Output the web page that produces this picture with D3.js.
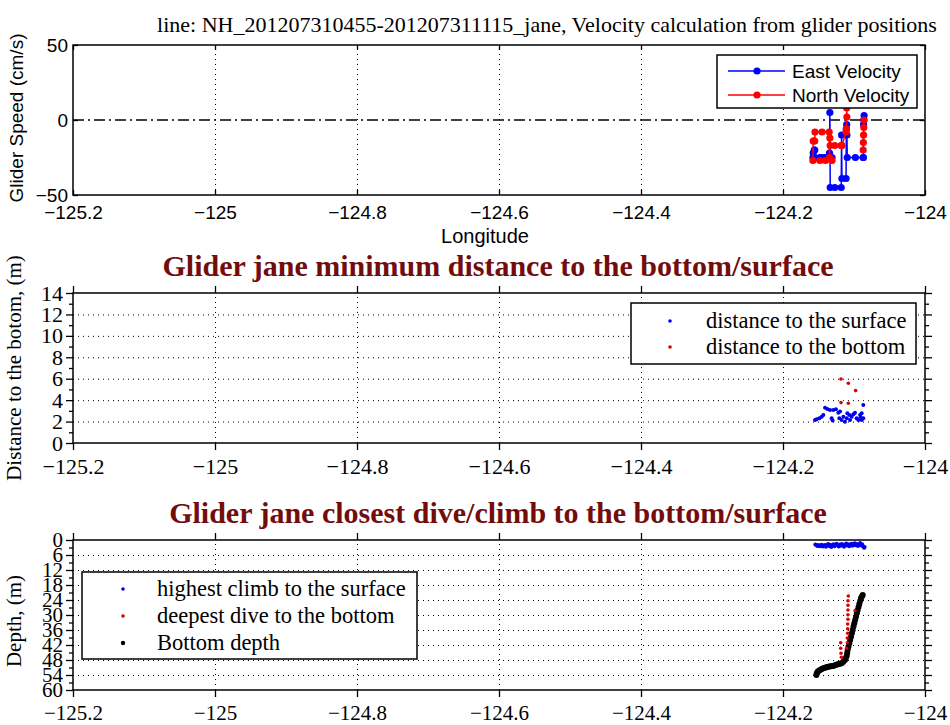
<!DOCTYPE html>
<html>
<head>
<meta charset="utf-8" />
<title>Glider jane</title>
<script src="https://cdn.jsdelivr.net/npm/d3@7/dist/d3.min.js"></script>
<style>
    body { margin: 0; background: #fff; }
    .sans { font-family: "Liberation Sans", Arial, sans-serif; }
    .serif { font-family: "Liberation Serif", "Times New Roman", serif; }
</style>
</head>
<body>
<svg id="fig" width="950" height="725"></svg>
<script>

    // ---- shared tick values
    var lonTicks = [-125.2, -125, -124.8, -124.6, -124.4, -124.2, -124];
    var speedTicks = [-50, 0, 50];
    var distTicks = [0, 2, 4, 6, 8, 10, 12, 14];
    var distMinor = [1, 3, 5, 7, 9, 11, 13];
    var depthTicks = [0, 6, 12, 18, 24, 30, 36, 42, 48, 54, 60];
    var depthMinor = [3, 9, 15, 21, 27, 33, 39, 45, 51, 57];

    // ---- velocity (top panel), time order; null = gap
    var velLon = [-124.0858, -124.0862, -124.0865, -124.0868, -124.0871, -124.0980, -124.1095,
                  -124.1100, -124.1103, -124.1108, -124.1112, -124.1170, -124.1175, -124.1180,
                  -124.1270, -124.1335, -124.1340, -124.1345, -124.1350, -124.1450, -124.1550,
                  -124.1553, -124.1560, -124.1575, -124.1578, -124.1480, -124.1400, -124.1310];
    var eastVel = [3, 0, -3, -25, -25, -25, -25,
                   -10, -3, -6, -39, -39, -10, -45,
                   -45, -45, 5, -22, -25, -25, -25,
                   -20, -20, -22, -25, -25, -25, -25];
    var northVel = [0, -5, -10, -15, -20, null, null,
                    2, 8, -6, -8, -17, -17, -17,
                    -17, -17, -12, -25, -8, -8, -8,
                    -14, -14, -14, -27, -27, -27, -27];

    // ---- minimum distance (middle panel)
    var surfLon = [-124.1549, -124.1526, -124.1488, -124.1455, -124.1432, -124.1408, -124.1376, -124.1338,
                   -124.1315, -124.1301, -124.1291, -124.1254, -124.1221, -124.1197, -124.1207, -124.1174,
                   -124.1150, -124.1127, -124.1103, -124.1094, -124.1066, -124.1056, -124.1033, -124.1009,
                   -124.0986, -124.0963, -124.0939, -124.0915, -124.0892, -124.0892, -124.0869, -124.0869,
                   -124.0906];
    var surfDist = [2.15, 2.21, 2.31, 2.46, 2.62, 3.30, 3.18, 3.08,
                    2.31, 2.09, 3.08, 3.14, 2.83, 2.93, 2.31, 2.15,
                    2.46, 1.99, 2.31, 2.77, 2.62, 2.15, 2.46, 2.68,
                    2.83, 2.31, 2.15, 2.62, 2.77, 2.15, 3.55, 2.31,
                    2.40];
    var botLon = [-124.1183, -124.1080, -124.0977, -124.1183, -124.1080];
    var botDist = [5.98, 5.57, 4.89, 3.77, 3.71];

    // ---- closest dive/climb (bottom panel)
    var climbLon = [-124.1545, -124.1530, -124.1515, -124.1500, -124.1485, -124.1470, -124.1455, -124.1440,
                    -124.1425, -124.1410, -124.1395, -124.1380, -124.1365, -124.1350, -124.1335, -124.1320,
                    -124.1305, -124.1290, -124.1275, -124.1260, -124.1245, -124.1230, -124.1215, -124.1200,
                    -124.1185, -124.1170, -124.1155, -124.1140, -124.1125, -124.1110, -124.1095, -124.1080,
                    -124.1065, -124.1050, -124.1035, -124.1020, -124.1005, -124.0990, -124.0975, -124.0960,
                    -124.0945, -124.0930, -124.0915, -124.0900, -124.0885, -124.0870, -124.0858, -124.0850];
    var climbDepth = [1.8, 2.1, 2.4, 2.0, 2.5, 2.2, 1.9, 2.6,
                      2.3, 2.0, 2.7, 2.1, 1.6, 2.4, 1.9, 2.8,
                      2.1, 1.7, 2.5, 2.0, 1.5, 2.2, 2.6, 1.8,
                      2.3, 1.6, 2.1, 2.7, 1.9, 1.4, 2.2, 1.7,
                      2.5, 2.0, 1.5, 2.3, 1.8, 1.3, 2.1, 1.6,
                      2.4, 1.9, 1.2, 2.2, 1.7, 2.6, 3.1, 2.8];
    var diveLon = [-124.1080, -124.1085, -124.1085, -124.1085, -124.1085, -124.1085, -124.1089, -124.1089,
                   -124.1089, -124.1094, -124.1094, -124.1103, -124.1187, -124.1187, -124.1183, -124.1178,
                   -124.0986];
    var diveDepth = [22.4, 24.3, 26.1, 28.0, 29.9, 31.7, 33.6, 35.5,
                     37.3, 39.2, 41.1, 43.3, 41.1, 43.3, 45.3, 46.9,
                     28.3];
    var bedLon = [-124.1530, -124.1525, -124.1515, -124.1500, -124.1479, -124.1460, -124.1440, -124.1420,
                  -124.1400, -124.1385, -124.1365, -124.1345, -124.1325, -124.1305, -124.1292, -124.1270,
                  -124.1250, -124.1230, -124.1210, -124.1190, -124.1173, -124.1150, -124.1127, -124.1115,
                  -124.1103, -124.1096, -124.1089, -124.1078, -124.1066, -124.1054, -124.1042, -124.1030,
                  -124.1018, -124.1007, -124.0996, -124.0984, -124.0972, -124.0960, -124.0948, -124.0936,
                  -124.0925, -124.0913, -124.0901, -124.0889, -124.0877];
    var bedDepth = [54.0, 53.4, 52.8, 52.4, 52.0, 51.7, 51.4, 51.2,
                    51.0, 50.9, 50.7, 50.6, 50.5, 50.4, 50.4, 50.1,
                    49.9, 49.7, 49.6, 49.4, 49.3, 48.7, 48.0, 47.2,
                    46.4, 45.2, 44.0, 42.7, 41.3, 40.0, 38.7, 37.3,
                    36.0, 34.6, 33.3, 32.0, 30.7, 29.3, 28.0, 26.8,
                    25.6, 24.4, 23.3, 22.6, 22.0];

    var svg = d3.select("#fig");
    var left = 73, right = 925;
    var maroon = "#730d0d";

    function fmt(d) { return (d < 0 ? "\u2212" : "") + Math.abs(d); }

    function zip(a, b) { return a.map(function (v, i) { return [v, b[i]]; }); }

    // draws grid, border, ticks of one panel
    function frame(x, y, top, bottom, o) {
        var g = svg.append("g");
        var h = bottom - top, w = right - left;
        // dotted grid
        g.append("g").attr("transform", "translate(0," + bottom + ")")
            .call(d3.axisBottom(x).tickValues(lonTicks.slice(1, -1)).tickSize(-h).tickFormat(""))
            .selectAll("line").attr("stroke", "#000").attr("stroke-dasharray", "1,4");
        if (o.ygrid) {
            g.append("g").attr("transform", "translate(" + left + ",0)")
                .call(d3.axisLeft(y).tickValues(o.ygrid).tickSize(-w).tickFormat(""))
                .selectAll("line").attr("stroke", "#000").attr("stroke-dasharray", "1,4");
        }
        var t = o.tick, tm = o.minorTick;
        g.append("g").attr("transform", "translate(0," + bottom + ")")
            .call(d3.axisBottom(x).tickValues(lonTicks).tickSize(t).tickPadding(o.xpad).tickFormat(fmt));
        g.append("g").attr("transform", "translate(0," + top + ")")
            .call(d3.axisTop(x).tickValues(lonTicks).tickSize(t).tickFormat(""));
        g.append("g").attr("transform", "translate(" + left + ",0)")
            .call(d3.axisLeft(y).tickValues(o.yticks).tickSize(t).tickPadding(o.ypad).tickFormat(fmt));
        g.append("g").attr("transform", "translate(" + right + ",0)")
            .call(d3.axisRight(y).tickValues(o.yticks).tickSize(t).tickFormat(""));
        if (o.minor) {
            g.append("g").attr("transform", "translate(" + left + ",0)")
                .call(d3.axisLeft(y).tickValues(o.minor).tickSize(tm).tickFormat(""));
            g.append("g").attr("transform", "translate(" + right + ",0)")
                .call(d3.axisRight(y).tickValues(o.minor).tickSize(tm).tickFormat(""));
        }
        g.selectAll(".domain").remove();
        g.selectAll(".tick line").filter(function () { return !this.getAttribute("stroke-dasharray"); })
            .attr("stroke", "#000").attr("stroke-width", 1.3);
        g.selectAll("text").attr("class", o.font).attr("font-family", null)
            .style("font-size", o.fontSize + "px").attr("fill", "#000");
        g.append("rect").attr("x", left).attr("y", top).attr("width", w).attr("height", h)
            .attr("fill", "none").attr("stroke", "#000").attr("stroke-width", 1.5);
        return g;
    }

    function legendBox(x0, y0, w, h) {
        svg.append("rect").attr("x", x0).attr("y", y0).attr("width", w).attr("height", h)
            .attr("fill", "#fff").attr("stroke", "#000").attr("stroke-width", 1.5);
    }

    // ================= top panel: velocity =================
    var x1 = d3.scaleLinear().domain([-125.2, -124]).range([left, right]);
    var y1 = d3.scaleLinear().domain([-50, 50]).range([195, 45]);

    frame(x1, y1, 45, 195, { yticks: speedTicks, tick: -5, xpad: 11, ypad: 5, font: "sans", fontSize: 19 });

    svg.append("line").attr("x1", left).attr("x2", right).attr("y1", y1(0)).attr("y2", y1(0))
        .attr("stroke", "#000").attr("stroke-width", 1.5).attr("stroke-dasharray", "11,4,2,4");

    var velLine = d3.line().defined(function (d) { return d[1] !== null; })
        .x(function (d) { return x1(d[0]); }).y(function (d) { return y1(d[1]); });

    [[eastVel, "#0000ff"], [northVel, "#ff0000"]].forEach(function (s) {
        var pts = zip(velLon, s[0]);
        svg.append("path").datum(pts).attr("d", velLine)
            .attr("fill", "none").attr("stroke", s[1]).attr("stroke-width", 1.5);
        svg.append("g").selectAll("circle").data(pts.filter(function (d) { return d[1] !== null; }))
            .enter().append("circle")
            .attr("cx", function (d) { return x1(d[0]); }).attr("cy", function (d) { return y1(d[1]); })
            .attr("r", 3.6).attr("fill", s[1]);
    });

    svg.append("text").attr("class", "serif").attr("x", 547).attr("y", 32)
        .attr("text-anchor", "middle").style("font-size", "22px")
        .text("line: NH_201207310455-201207311115_jane, Velocity calculation from glider positions");
    svg.append("text").attr("class", "sans").attr("x", 485).attr("y", 243)
        .attr("text-anchor", "middle").style("font-size", "20px").text("Longitude");
    svg.append("text").attr("class", "sans").attr("transform", "translate(23,118) rotate(-90)")
        .attr("text-anchor", "middle").style("font-size", "19px").text("Glider Speed (cm/s)");

    legendBox(717, 55, 200, 53);
    [["East Velocity", "#0000ff", 71], ["North Velocity", "#ff0000", 95]].forEach(function (e) {
        svg.append("line").attr("x1", 728).attr("x2", 785).attr("y1", e[2]).attr("y2", e[2])
            .attr("stroke", e[1]).attr("stroke-width", 1.5);
        svg.append("circle").attr("cx", 757).attr("cy", e[2]).attr("r", 3.6).attr("fill", e[1]);
        svg.append("text").attr("class", "sans").attr("x", 792).attr("y", e[2] + 7)
            .style("font-size", "19px").text(e[0]);
    });

    // ================= middle panel: distance =================
    var x2 = d3.scaleLinear().domain([-125.2, -124]).range([left, right]);
    var y2 = d3.scaleLinear().domain([0, 14]).range([443, 293]);

    frame(x2, y2, 293, 443, { yticks: distTicks, minor: distMinor, ygrid: [2, 4, 6, 8, 10, 12],
        tick: 7, minorTick: 4, xpad: 8, ypad: 3, font: "serif", fontSize: 22 });

    svg.append("g").selectAll("circle").data(zip(surfLon, surfDist)).enter().append("circle")
        .attr("cx", function (d) { return x2(d[0]); }).attr("cy", function (d) { return y2(d[1]); })
        .attr("r", 2).attr("fill", "#0000ee");
    svg.append("g").selectAll("circle").data(zip(botLon, botDist)).enter().append("circle")
        .attr("cx", function (d) { return x2(d[0]); }).attr("cy", function (d) { return y2(d[1]); })
        .attr("r", 1.8).attr("fill", "#dd0000");

    svg.append("text").attr("class", "serif").attr("x", 498).attr("y", 276)
        .attr("text-anchor", "middle").style("font-size", "30px").style("font-weight", "bold")
        .attr("fill", maroon).text("Glider jane minimum distance to the bottom/surface");
    svg.append("text").attr("class", "serif").attr("transform", "translate(21,368) rotate(-90)")
        .attr("text-anchor", "middle").style("font-size", "21px").text("Distance to the botom, (m)");

    legendBox(631, 303, 285, 61);
    [["distance to the surface", "#0000ee", 321], ["distance to the bottom", "#dd0000", 347]].forEach(function (e) {
        svg.append("circle").attr("cx", 670).attr("cy", e[2]).attr("r", 1.8).attr("fill", e[1]);
        svg.append("text").attr("class", "serif").attr("x", 706).attr("y", e[2] + 7)
            .style("font-size", "22.5px").text(e[0]);
    });

    // ================= bottom panel: depth =================
    var x3 = d3.scaleLinear().domain([-125.2, -124]).range([left, right]);
    var y3 = d3.scaleLinear().domain([0, 60]).range([540, 690]);

    frame(x3, y3, 540, 690, { yticks: depthTicks, minor: depthMinor, ygrid: depthTicks.slice(1, -1),
        tick: 7, minorTick: 4, xpad: 8, ypad: 3, font: "serif", fontSize: 21 });

    svg.append("g").selectAll("circle").data(zip(bedLon, bedDepth)).enter().append("circle")
        .attr("cx", function (d) { return x3(d[0]); }).attr("cy", function (d) { return y3(d[1]); })
        .attr("r", 3).attr("fill", "#000");
    svg.append("g").selectAll("circle").data(zip(climbLon, climbDepth)).enter().append("circle")
        .attr("cx", function (d) { return x3(d[0]); }).attr("cy", function (d) { return y3(d[1]); })
        .attr("r", 2).attr("fill", "#0000ee");
    svg.append("g").selectAll("circle").data(zip(diveLon, diveDepth)).enter().append("circle")
        .attr("cx", function (d) { return x3(d[0]); }).attr("cy", function (d) { return y3(d[1]); })
        .attr("r", 1.8).attr("fill", "#dd0000");

    svg.append("text").attr("class", "serif").attr("x", 498).attr("y", 523)
        .attr("text-anchor", "middle").style("font-size", "30px").style("font-weight", "bold")
        .attr("fill", maroon).text("Glider jane closest dive/climb to the bottom/surface");
    svg.append("text").attr("class", "serif").attr("transform", "translate(21,621) rotate(-90)")
        .attr("text-anchor", "middle").style("font-size", "21px").text("Depth, (m)");

    legendBox(82, 572, 335, 87);
    [["highest climb to the surface", "#0000ee", 589, 1.8], ["deepest dive to the bottom", "#dd0000", 616, 1.8],
     ["Bottom depth", "#000", 643, 2.2]].forEach(function (e) {
        svg.append("circle").attr("cx", 123).attr("cy", e[2]).attr("r", e[3]).attr("fill", e[1]);
        svg.append("text").attr("class", "serif").attr("x", 157).attr("y", e[2] + 7)
            .style("font-size", "22.5px").text(e[0]);
    });

</script>
</body>
</html>
